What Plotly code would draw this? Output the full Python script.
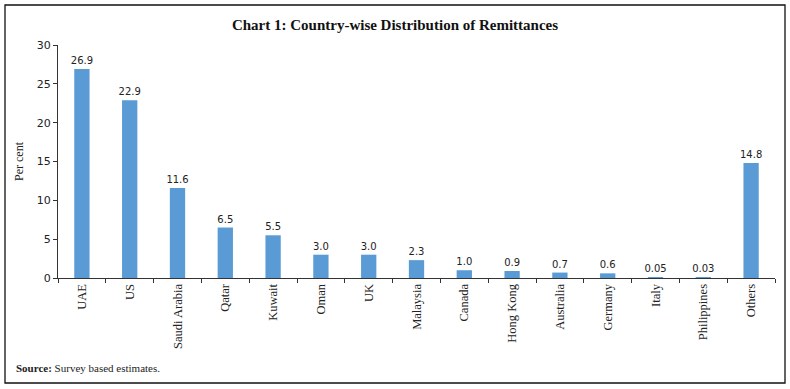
import plotly.graph_objects as go

countries = ["UAE", "US", "Saudi Arabia", "Qatar", "Kuwait", "Oman", "UK", "Malaysia",
             "Canada", "Hong Kong", "Australia", "Germany", "Italy", "Philippines", "Others"]
shares = [26.9, 22.9, 11.6, 6.5, 5.5, 3.0, 3.0, 2.3, 1.0, 0.9, 0.7, 0.6, 0.05, 0.03, 14.8]
labels = ["26.9", "22.9", "11.6", "6.5", "5.5", "3.0", "3.0", "2.3", "1.0", "0.9", "0.7",
          "0.6", "0.05", "0.03", "14.8"]
y_ticks = [0, 5, 10, 15, 20, 25, 30]

W, H = 790, 389
L, R, T, B = 58, 15, 45, 111
pw, ph = W - L - R, H - T - B

def px(x):
    return (x - L) / pw

def py(y):
    return (H - B - y) / ph

fig = go.Figure(go.Bar(
    x=countries, y=shares, text=labels, textposition="outside", constraintext="none",
    textfont=dict(family="DejaVu Sans", size=10, color="#222"),
    marker=dict(color="#5B9BD5", line=dict(width=0)),
    cliponaxis=False,
))

fig.update_layout(
    width=W, height=H,
    margin=dict(l=L, r=R, t=T, b=B),
    plot_bgcolor="white", paper_bgcolor="white",
    bargap=0.68, showlegend=False,
    title=dict(text="<b>Chart 1: Country-wise Distribution of Remittances</b>",
               x=0.5, xref="container", xanchor="center", y=(H - 25) / H, yanchor="middle",
               font=dict(family="Liberation Serif", size=15, color="#111")),
    font=dict(family="DejaVu Sans", color="#222"),
)
fig.update_xaxes(
    showline=True, linecolor="#333", linewidth=1,
    ticks="outside", tickson="boundaries", ticklen=4, tickcolor="#333",
    tickangle=-90, tickfont=dict(family="Liberation Serif", size=12.5, color="#222"),
    showgrid=False,
)
fig.update_yaxes(
    range=[0, 30], tickvals=y_ticks, showline=True, linecolor="#333", linewidth=1,
    ticks="outside", ticklen=4, tickcolor="#333", showgrid=False, zeroline=False,
    tickfont=dict(family="DejaVu Sans", size=11, color="#222"),
    title=dict(text="Per cent", font=dict(family="Liberation Serif", size=12, color="#222"), standoff=10),
)

fig.add_shape(type="rect", xref="paper", yref="paper",
              x0=px(5), x1=px(785), y0=py(383), y1=py(5),
              line=dict(color="#111", width=1.3), layer="above")

fig.add_annotation(xref="paper", yref="paper", x=px(14), y=py(368),
                   xanchor="left", yanchor="middle", showarrow=False,
                   text="<b>Source:</b> Survey based estimates.",
                   font=dict(family="Liberation Serif", size=11, color="#222"))

fig.write_html("out.html", config={"displayModeBar": False},
               post_script="document.body.style.margin='0';document.body.style.overflow='hidden';")
